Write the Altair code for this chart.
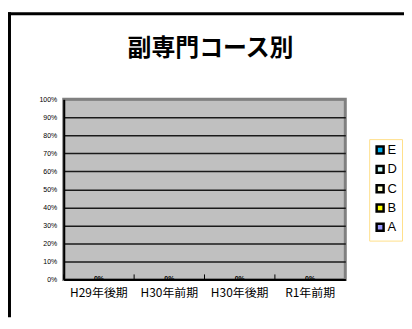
import altair as alt
import pandas as pd

categories = ["H29年後期", "H30年前期", "H30年後期", "R1年前期"]
series = ["E", "D", "C", "B", "A"]
colors = ["#00B0F0", "#CCFFFF", "#FFFFCC", "#FFFF00", "#9999FF"]
# share of each series per period (all zero in the reference)
values = {
    "E": [0, 0, 0, 0],
    "D": [0, 0, 0, 0],
    "C": [0, 0, 0, 0],
    "B": [0, 0, 0, 0],
    "A": [0, 0, 0, 0],
}
y_ticks = [0, 0.1, 0.2, 0.3, 0.4, 0.5, 0.6, 0.7, 0.8, 0.9, 1.0]

rows = []
for s in series:
    for c, v in zip(categories, values[s]):
        rows.append({"cat": c, "series": s, "value": v})
df = pd.DataFrame(rows)

W, H = 283, 181
PL, PT = 56, 91
TOTAL_W, TOTAL_H = 398, 310

x_axis = alt.Axis(
    title=None, labelAngle=0, ticks=False, labelFontSize=12,
    labelFont="Noto Sans CJK JP", labelColor="black", labelPadding=8,
    domainColor="black", domainWidth=2,
)
x_scale = alt.Scale(paddingInner=0, paddingOuter=0)
y_axis = alt.Axis(
    values=y_ticks, format=".0%", title=None, ticks=False,
    labelFontSize=7, labelFont="Liberation Sans", labelColor="black",
    labelPadding=7, labelOverlap=False, labelFlush=False,
    domainColor="black", domainWidth=2,
    gridColor={"condition": {"test": "datum.value >= 1", "value": "#808080"}, "value": "#1a1a1a"},
    gridWidth=1.5,
)
y_scale = alt.Scale(domain=[0, 1])

bars = alt.Chart(df).mark_bar().encode(
    x=alt.X("cat:N", sort=categories, scale=x_scale, axis=x_axis),
    y=alt.Y("value:Q", stack="zero", scale=y_scale, axis=y_axis),
    color=alt.Color(
        "series:N",
        scale=alt.Scale(domain=series, range=colors),
        legend=alt.Legend(
            orient="none", legendX=307, legendY=40, title=None,
            symbolType="square", symbolSize=49, symbolStrokeColor="black",
            symbolStrokeWidth=2.5, labelFontSize=13, labelFont="Liberation Sans",
            labelColor="black", labelOffset=1, rowPadding=2.4,
            strokeColor="#FFE08A", fillColor="white", padding=4.5,
        ),
    ),
)

labels = alt.Chart(df).mark_text(
    fontSize=7, fontWeight="bold", font="Liberation Sans", color="black", baseline="middle"
).encode(
    x=alt.X("cat:N", sort=categories, scale=x_scale, axis=x_axis),
    y=alt.Y("sum(value):Q", scale=y_scale, axis=y_axis),
    text=alt.Text("sum(value):Q", format=".0%"),
)

tick_df = pd.DataFrame({"cat": categories})
ticks = alt.Chart(tick_df).mark_rule(color="black", strokeWidth=1).encode(
    x=alt.X("cat:N", sort=categories, bandPosition=0, scale=x_scale, axis=x_axis),
    y=alt.value(H),
    y2=alt.value(H - 5),
)

frame_df = pd.DataFrame({"k": [0]})
frame_top = alt.Chart(frame_df).mark_rule(color="black", strokeWidth=3).encode(
    x=alt.value(-PL), x2=alt.value(TOTAL_W - PL), y=alt.value(-86)
)
frame_left = alt.Chart(frame_df).mark_rule(color="black", strokeWidth=3).encode(
    x=alt.value(-PL + 1.5), y=alt.value(-87.5), y2=alt.value(TOTAL_H - PT)
)

chart = alt.layer(bars, labels, ticks, frame_top, frame_left).properties(
    width=W,
    height=H,
    autosize=alt.AutoSizeParams(type="none"),
    padding={"left": PL, "top": PT, "right": TOTAL_W - PL - W, "bottom": TOTAL_H - PT - H},
    title=alt.TitleParams(
        text="副専門コース別", fontSize=24, fontWeight="bold",
        font="Noto Sans CJK JP", color="black", anchor="middle",
        frame="group", dx=6, offset=-50,
    ),
).configure(
    background="white",
    view=alt.ViewConfig(stroke="#808080", strokeWidth=3, fill="#C0C0C0"),
)

chart.save("out.html", embed_options={"renderer": "svg", "actions": False})
